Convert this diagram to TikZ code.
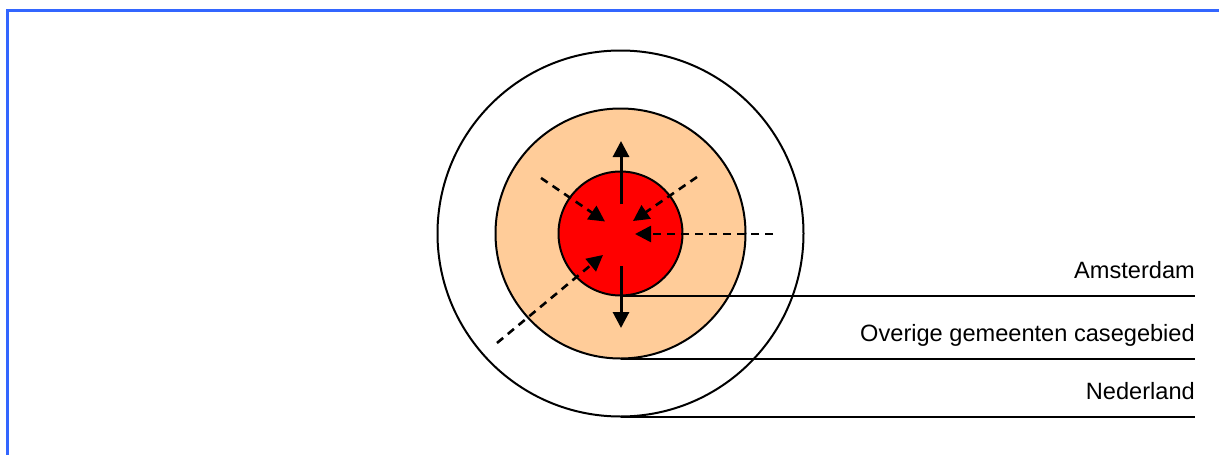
\documentclass[tikz,border=0pt]{standalone}
\usepackage{fontspec}
\setmainfont{Liberation Sans}
\usetikzlibrary{arrows.meta}
\definecolor{frameblue}{RGB}{51,102,255}
\definecolor{peach}{RGB}{255,204,153}
\begin{document}
\begin{tikzpicture}[x=1pt,y=-1pt,
  ring/.style={circle, draw=black, line width=2pt, inner sep=0pt, outer sep=0pt},
  leader/.style={draw=black, line width=2pt},
  lbl/.style={anchor=base east, inner sep=0pt, font=\fontsize{23.6}{28}\selectfont},
  solidarrow/.style={line width=3pt, -{Triangle[length=16pt,width=16pt]}},
  dasharrow/.style={line width=2.6pt, dash pattern=on 8pt off 6pt, -{Triangle[length=16pt,width=16pt]}}]
\useasboundingbox (0,0) rectangle (1219,455);
% frame (top and left only)
\draw[frameblue, line width=3pt] (7,455) -- (7,10) -- (1219,10);
% circles
\node[ring, minimum size=366pt] (ned) at (620.5,233.5) {};
\node[ring, fill=peach, minimum size=250pt] (ovr) at (620.5,233.5) {};
\node[ring, fill=red, minimum size=124pt] (ams) at (620.5,233.5) {};
% leader lines
\coordinate (endx) at (1195,0);
\draw[leader] (ams.south) -- (ams.south -| endx);
\draw[leader] (ovr.south) -- (ovr.south -| endx);
\draw[leader] (ned.south) -- (ned.south -| endx);
% labels
\node[lbl] (tams) at (1195,278) {Amsterdam};
\node[lbl] (tovr) at (1195,341.5) {Overige gemeenten casegebied};
\node[lbl] (tned) at (1195,399.5) {Nederland};
% arrow end points
\coordinate (upS) at (621,204);
\coordinate (upE) at (621,141);
\coordinate (dnS) at (621,266);
\coordinate (dnE) at (621,328);
\coordinate (ulS) at (541,178);
\coordinate (ulE) at (605,221.5);
\coordinate (urS) at (697,177);
\coordinate (urE) at (633,221);
\coordinate (hS) at (773,234);
\coordinate (hE) at (635,234);
\coordinate (llS) at (497,343);
\coordinate (llE) at (603,255);
% arrows
\draw[solidarrow] (upS) -- (upE);
\draw[solidarrow] (dnS) -- (dnE);
\draw[dasharrow] (ulS) -- (ulE);
\draw[dasharrow] (urS) -- (urE);
\draw[dasharrow] (hS) -- (hE);
\draw[dasharrow] (llS) -- (llE);
\end{tikzpicture}
\end{document}
